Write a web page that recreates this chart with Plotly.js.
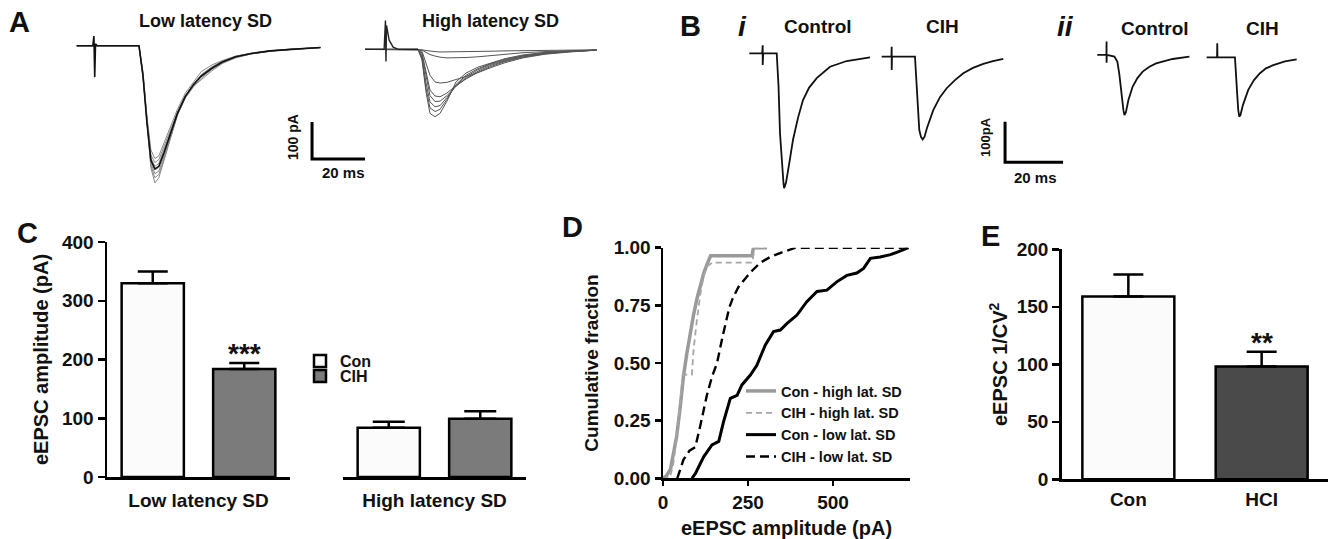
<!DOCTYPE html>
<html>
<head>
<meta charset="utf-8">
<script src="https://cdn.plot.ly/plotly-3.0.1.min.js"></script>
<style>html,body{margin:0;padding:0;background:#fff;}#fig{width:1340px;height:539px;}</style>
</head>
<body>
<div id="fig"></div>
<script>
// ---------- Panel A: example eEPSC sweeps (time in ms, current in pA) ----------
const tLowSweep = [0, 23.5, 25.0, 26.5, 28.0, 29.5, 31.0, 33.0, 35.5, 38.0, 41.0, 44.0, 47.0, 51.0, 55.0, 60.0, 66.0, 73.0, 81.0, 92.0];
const lowSweep1 = [0, 0, -70, -190, -282, -305, -298, -262, -220, -172, -128, -98, -70, -52, -40, -28, -20, -14, -9, -5];
const lowSweep2 = [0, 0, -75, -198, -295, -316, -308, -272, -228, -180, -135, -106, -84, -62, -45, -31, -22, -15, -10, -5];
const lowSweep3 = [0, 0, -78, -204, -304, -326, -318, -281, -233, -183, -137, -104, -78, -57, -41, -29, -20, -14, -9, -5];
const lowSweep4 = [0, 0, -80, -208, -312, -336, -329, -290, -239, -186, -140, -110, -92, -68, -48, -33, -22, -15, -10, -5];
const lowSweep5 = [0, 0, -81, -211, -318, -346, -339, -298, -243, -187, -138, -105, -80, -60, -44, -30, -21, -14, -10, -5];
const lowSweep6 = [0, 0, -82, -213, -324, -357, -348, -304, -246, -188, -141, -112, -88, -64, -46, -31, -21, -14, -10, -5];
const lowSweep7 = [0, 0, -83, -215, -330, -371, -357, -309, -249, -187, -139, -107, -83, -61, -44, -30, -21, -14, -10, -5];
const tLowMean = [0, 6.1, 6.5, 6.8, 7.1, 7.7, 23.5, 25.0, 26.5, 28.0, 29.5, 31.0, 33.0, 35.5, 38.0, 41.0, 44.0, 47.0, 51.0, 55.0, 60.0, 66.0, 73.0, 81.0, 92.0];
const lowMean = [0, 0, 26, -85, 5, 0, 0, -80, -208, -310, -333, -326, -288, -236, -183, -137, -106, -82, -61, -44, -30, -21, -14, -10, -5];

const tHighSweep = [108.8, 128.8, 130.3, 131.8, 133.3, 135.2, 137.1, 139.7, 143.1, 146.9, 151.4, 156.0, 161.6, 168.4, 176.7, 186.1, 196.3];
const highSweep1 = [-10, -10, -39, -125, -183, -192, -183, -150, -98, -74, -58, -47, -35, -25, -18, -14, -12];
const highSweep2 = [-10, -10, -35, -115, -168, -178, -172, -145, -105, -80, -62, -49, -37, -27, -19, -15, -12];
const highSweep3 = [-10, -10, -30, -100, -152, -165, -162, -140, -108, -84, -65, -51, -39, -28, -20, -15, -12];
const highSweep4 = [-10, -10, -25, -85, -135, -151, -150, -135, -110, -88, -69, -54, -41, -30, -21, -16, -12];
const highSweep5 = [-10, -10, -20, -70, -120, -136, -138, -128, -108, -90, -72, -57, -43, -31, -22, -16, -12];
const highSweep6 = [-10, -10, -15, -45, -80, -98, -101, -99, -92, -84, -73, -60, -46, -33, -23, -17, -12];
const highSweep7 = [-10, -10, -12, -18, -24, -28, -31, -33, -33, -32, -30, -27, -23, -19, -16, -14, -12];
const highSweep8 = [-10, -10, -11, -13, -15, -16, -17, -17, -17, -17, -16, -15, -14, -13, -12, -12, -11];
const tHighStim = [108.8, 116.0, 116.5, 116.7, 116.9, 117.9, 119.4, 121.3, 128.8];
const highStim = [-10, -10, 68, -43, 55, 15, -4, -10, -10];

const scaleA_ms = [88.8, 88.8, 108.8];
const scaleA_pA = [-206.2, -306.2, -306.2];

// ---------- Panel B: representative traces ----------
const tCtrlI = [0, 4.45, 4.62, 4.62, 4.8, 9.45, 10.07, 10.59, 11.38, 11.79, 12.0, 12.65, 13.69, 15.07, 16.79, 18.52, 20.58, 23.24, 27.83, 33.58, 41.62];
const ctrlI = [0, 0, 20, -29, 0, 0, -80, -197, -290, -320, -332, -319, -275, -213, -159, -115, -85, -61, -33, -19, -10];
const tCihI = [45.65, 49.0, 49.1, 49.1, 49.2, 57.13, 57.93, 58.62, 59.2, 59.79, 60.41, 61.27, 63.44, 65.75, 68.06, 70.92, 73.79, 77.13, 80.68, 84.03, 87.58];
const cihI = [-8, -8, 16, -41, -8, -8, -115, -189, -206, -212, -206, -184, -140, -108, -86, -66, -49, -36, -26, -19, -14];
const tCtrlII = [120.0, 123.15, 123.2, 123.2, 123.3, 125.91, 126.94, 127.63, 128.32, 129.01, 129.36, 129.87, 130.73, 132.21, 133.84, 135.66, 137.97, 140.28, 146.0, 151.76];
const ctrlII = [-4, -4, 29, -23, -4, -8, -21, -53, -103, -140, -152, -145, -115, -82, -61, -45, -33, -25, -14, -8];
const tCihII = [157.71, 161.3, 161.37, 161.44, 167.48, 167.83, 168.27, 168.62, 168.96, 169.37, 170.24, 172.06, 174.03, 176.1, 178.17, 180.69, 184.72, 188.76];
const cihII = [-10, -10, 25, -10, -10, -41, -103, -140, -156, -152, -127, -90, -66, -49, -37, -29, -20, -15];

const scaleB_ms = [88.2, 88.2, 108.2];
const scaleB_pA = [-168.5, -268.5, -268.5];

// ---------- Panel C: eEPSC amplitude ----------
const groupsC = ['Low latency SD', 'High latency SD'];
const conditionsC = ['Con', 'CIH'];
const conMeanC = [330, 84];
const conErrC = [20, 10];
const cihMeanC = [184, 99];
const cihErrC = [10, 13];

// ---------- Panel D: cumulative fractions ----------
const conHighX = [0, 10, 22, 30, 40, 50, 60, 70, 80, 90, 100, 110, 120, 130, 140, 262, 266, 306];
const conHighY = [0, 0.01, 0.04, 0.10, 0.18, 0.30, 0.44, 0.54, 0.63, 0.71, 0.78, 0.84, 0.89, 0.93, 0.965, 0.965, 1.0, 1.0];
const cihHighX = [0, 20, 30, 40, 50, 58, 85, 90, 100, 110, 120, 130, 145, 262, 270, 306];
const cihHighY = [0, 0, 0.06, 0.17, 0.32, 0.45, 0.45, 0.56, 0.69, 0.80, 0.88, 0.92, 0.935, 0.935, 1.0, 1.0];
const conLowX = [85, 95, 120, 144, 164, 178, 198, 218, 232, 257, 276, 301, 325, 345, 365, 394, 423, 453, 482, 512, 541, 570, 590, 610, 639, 669, 693, 722];
const conLowY = [0, 0.02, 0.094, 0.145, 0.16, 0.245, 0.347, 0.36, 0.405, 0.448, 0.49, 0.578, 0.636, 0.643, 0.672, 0.708, 0.766, 0.81, 0.816, 0.853, 0.88, 0.89, 0.91, 0.954, 0.96, 0.97, 0.983, 1.0];
const cihLowX = [42, 60, 78, 95, 110, 129, 144, 159, 176, 195, 205, 222, 247, 262, 286, 316, 350, 390, 722];
const cihLowY = [0, 0.08, 0.12, 0.135, 0.23, 0.36, 0.44, 0.50, 0.62, 0.74, 0.78, 0.83, 0.875, 0.90, 0.935, 0.96, 0.98, 1.0, 1.0];

// ---------- Panel E: 1/CV^2 ----------
const groupsE = ['Con', 'HCI'];
const meanE = [159, 98];
const errE = [19, 13];

// ---------- helpers ----------
const W = 1340, H = 539;
const px = v => v / W;
const py = v => 1 - v / H;
const FONT = 'Liberation Sans, Arial, Helvetica, sans-serif';
const bold = (size, extra) => Object.assign({size: size, family: FONT, color: '#111', weight: 'bold'}, extra || {});

function sweep(xa, ya, t, v, color, width) {
  return {type: 'scatter', mode: 'lines', x: t, y: v, xaxis: xa, yaxis: ya,
    line: {color: color, width: width}, showlegend: false, hoverinfo: 'skip', cliponaxis: false};
}

const traces = [];
// Panel A
[lowSweep1, lowSweep2, lowSweep3, lowSweep4, lowSweep5, lowSweep6, lowSweep7].forEach(s =>
  traces.push(sweep('x5', 'y5', tLowSweep, s, '#8a8a8a', 1)));
traces.push(sweep('x5', 'y5', tLowMean, lowMean, '#111', 1.6));
[highSweep1, highSweep2, highSweep3, highSweep4, highSweep5, highSweep6, highSweep7, highSweep8].forEach(s =>
  traces.push(sweep('x5', 'y5', tHighSweep, s, '#555', 1)));
traces.push(sweep('x5', 'y5', tHighStim, highStim, '#222', 1.4));
traces.push(sweep('x5', 'y5', scaleA_ms, scaleA_pA, '#000', 3));
// Panel B
traces.push(sweep('x6', 'y6', tCtrlI, ctrlI, '#111', 1.8));
traces.push(sweep('x6', 'y6', tCihI, cihI, '#111', 1.8));
traces.push(sweep('x6', 'y6', tCtrlII, ctrlII, '#111', 1.8));
traces.push(sweep('x6', 'y6', tCihII, cihII, '#111', 1.8));
traces.push(sweep('x6', 'y6', scaleB_ms, scaleB_pA, '#000', 3));

// Panel C bars
function barC(xa, ya, cond, val, err, color, capw, leg) {
  return {type: 'bar', x: [cond], y: [val], xaxis: xa, yaxis: ya, name: cond, width: 0.68,
    marker: {color: color, line: {color: '#000', width: 2.5}},
    error_y: {type: 'data', symmetric: false, array: [err], arrayminus: [0], color: '#000', thickness: 2.5, width: capw},
    showlegend: !!leg, legend: leg || 'legend', hoverinfo: 'skip'};
}
traces.push(barC('x', 'y', conditionsC[0], conMeanC[0], conErrC[0], '#fbfbfb', 15, 'legend'));
traces.push(barC('x', 'y', conditionsC[1], cihMeanC[0], cihErrC[0], '#7b7b7b', 15, 'legend3'));
traces.push(barC('x2', 'y2', conditionsC[0], conMeanC[1], conErrC[1], '#fbfbfb', 16, null));
traces.push(barC('x2', 'y2', conditionsC[1], cihMeanC[1], cihErrC[1], '#7b7b7b', 16, null));

// Panel D lines
function cdf(x, y, name, color, width, dash, grp) {
  return {type: 'scatter', mode: 'lines', x: x, y: y, xaxis: 'x3', yaxis: 'y3', name: name,
    line: {color: color, width: width, dash: dash}, legend: 'legend2', legendgroup: grp,
    cliponaxis: false, hoverinfo: 'skip'};
}
traces.push(cdf(conHighX, conHighY, 'Con - high lat. SD', '#9a9a9a', 3.5, 'solid', 'g1'));
traces.push(cdf(cihHighX, cihHighY, 'CIH - high lat. SD', '#a6a6a6', 1.8, '6px,4px', 'g2'));
traces.push(cdf(conLowX, conLowY, 'Con - low lat. SD', '#000', 3, 'solid', 'g3'));
traces.push(cdf(cihLowX, cihLowY, 'CIH - low lat. SD', '#000', 2.4, '9px,5px', 'g4'));

// Panel E bars
traces.push({type: 'bar', x: groupsE, y: meanE, xaxis: 'x4', yaxis: 'y4', width: 0.69,
  marker: {color: ['#fbfbfb', '#4a4a4a'], line: {color: '#000', width: 2.5}},
  error_y: {type: 'data', symmetric: false, array: errE, arrayminus: [0, 0], color: '#000', thickness: 2.5, width: 15},
  showlegend: false, hoverinfo: 'skip'});

const axBase = {showgrid: false, zeroline: false, showline: true, linecolor: '#000', linewidth: 2.5,
  tickcolor: '#000', tickwidth: 2.5, fixedrange: true, automargin: false, tickfont: bold(19)};
const hidden = {visible: false, showgrid: false, zeroline: false, fixedrange: true};
const topDom = [py(200), 1];
const legBase = {xanchor: 'left', yanchor: 'top', bgcolor: 'rgba(0,0,0,0)', itemclick: false, itemdoubleclick: false};

const layout = {
  width: W, height: H, margin: {l: 0, r: 0, t: 0, b: 0},
  paper_bgcolor: '#fff', plot_bgcolor: 'rgba(0,0,0,0)',
  font: bold(18), barmode: 'overlay', showlegend: true,
  // Panel C
  xaxis: Object.assign({}, axBase, {domain: [px(107), px(290)], anchor: 'y', type: 'category',
    categoryarray: conditionsC, range: [-0.5, 1.5], ticks: '', showticklabels: false,
    title: {text: groupsC[0], standoff: 15, font: bold(19)}}),
  yaxis: Object.assign({}, axBase, {domain: [py(477), py(242)], anchor: 'x', range: [0, 400],
    tickvals: [0, 100, 200, 300, 400], ticks: 'outside', ticklen: 7,
    title: {text: 'eEPSC amplitude (pA)', standoff: 8, font: bold(20)}}),
  xaxis2: Object.assign({}, axBase, {domain: [px(343), px(526)], anchor: 'y2', type: 'category',
    categoryarray: conditionsC, range: [-0.5, 1.5], ticks: '', showticklabels: false,
    title: {text: groupsC[1], standoff: 15, font: bold(19)}}),
  yaxis2: Object.assign({}, hidden, {domain: [py(477), py(242)], anchor: 'x2', range: [0, 400]}),
  // Panel D
  xaxis3: Object.assign({}, axBase, {domain: [px(663), px(910)], anchor: 'y3', range: [0, 726.5],
    tickvals: [0, 250, 500], ticks: 'outside', ticklen: 5,
    title: {text: 'eEPSC amplitude (pA)', standoff: 19, font: bold(20)}}),
  yaxis3: Object.assign({}, axBase, {domain: [py(478.3), py(247.7)], anchor: 'x3', range: [0, 1],
    tickvals: [0, 0.25, 0.5, 0.75, 1], tickformat: '.2f', ticks: 'outside', ticklen: 6,
    title: {text: 'Cumulative fraction', standoff: 10, font: bold(19)}}),
  // Panel E
  xaxis4: Object.assign({}, axBase, {domain: [px(1061.7), px(1328.3)], anchor: 'y4', type: 'category',
    categoryarray: groupsE, range: [-0.5, 1.5], ticks: 'outside', ticklen: 1, tickcolor: 'rgba(0,0,0,0)'}),
  yaxis4: Object.assign({}, axBase, {domain: [py(479.3), py(249.3)], anchor: 'x4', range: [0, 200],
    tickvals: [0, 50, 100, 150, 200], ticks: 'outside', ticklen: 7,
    title: {text: 'eEPSC 1/CV<sup>2</sup>', standoff: 4, font: bold(20)}}),
  // Panels A and B (trace canvases, no visible axes)
  xaxis5: Object.assign({}, hidden, {domain: [px(60), px(620)], anchor: 'y5', range: [-6.3, 205.0]}),
  yaxis5: Object.assign({}, hidden, {domain: topDom, anchor: 'x5', range: [-417.1, 123.5]}),
  xaxis6: Object.assign({}, hidden, {domain: [px(680), 1], anchor: 'y6', range: [-23.9, 203.7]}),
  yaxis6: Object.assign({}, hidden, {domain: topDom, anchor: 'x6', range: [-361.3, 131.3]}),
  legend: Object.assign({}, legBase, {x: px(300), y: py(344), font: bold(16)}),
  legend3: Object.assign({}, legBase, {x: px(300), y: py(359), font: bold(16)}),
  legend2: Object.assign({}, legBase, {x: px(741), y: py(375), font: bold(14.5), tracegroupgap: 5, traceorder: 'normal'}),
  annotations: []
};

function lab(text, x, y, size, extra, fontExtra) {
  return Object.assign({text: text, xref: 'paper', yref: 'paper', x: px(x), y: py(y),
    xanchor: 'center', yanchor: 'middle', showarrow: false, font: bold(size, fontExtra)}, extra || {});
}
layout.annotations.push(
  lab('A', 19, 22, 29), lab('B', 690, 26, 29), lab('C', 27, 233, 29), lab('D', 572, 227, 29), lab('E', 991, 236, 29),
  lab('Low latency SD', 205, 21, 18), lab('High latency SD', 490, 21, 18),
  lab('100 pA', 293, 137, 14, {textangle: -90}), lab('20 ms', 343, 173, 15),
  lab('i', 742, 27, 28, null, {style: 'italic'}), lab('Control', 818, 27, 19), lab('CIH', 942, 27, 19),
  lab('ii', 1065, 27, 28, null, {style: 'italic'}), lab('Control', 1155, 28, 19), lab('CIH', 1262, 28, 19),
  lab('100pA', 985, 137, 13, {textangle: -90}), lab('20 ms', 1035, 177, 15),
  {text: '***', xref: 'x', yref: 'y', x: conditionsC[1], y: 210, xanchor: 'center', yanchor: 'middle',
   showarrow: false, font: bold(28)},
  {text: '**', xref: 'x4', yref: 'y4', x: groupsE[1], y: 119, xanchor: 'center', yanchor: 'middle',
   showarrow: false, font: bold(28)}
);

Plotly.newPlot('fig', traces, layout, {staticPlot: true, displayModeBar: false});
</script>
</body>
</html>
